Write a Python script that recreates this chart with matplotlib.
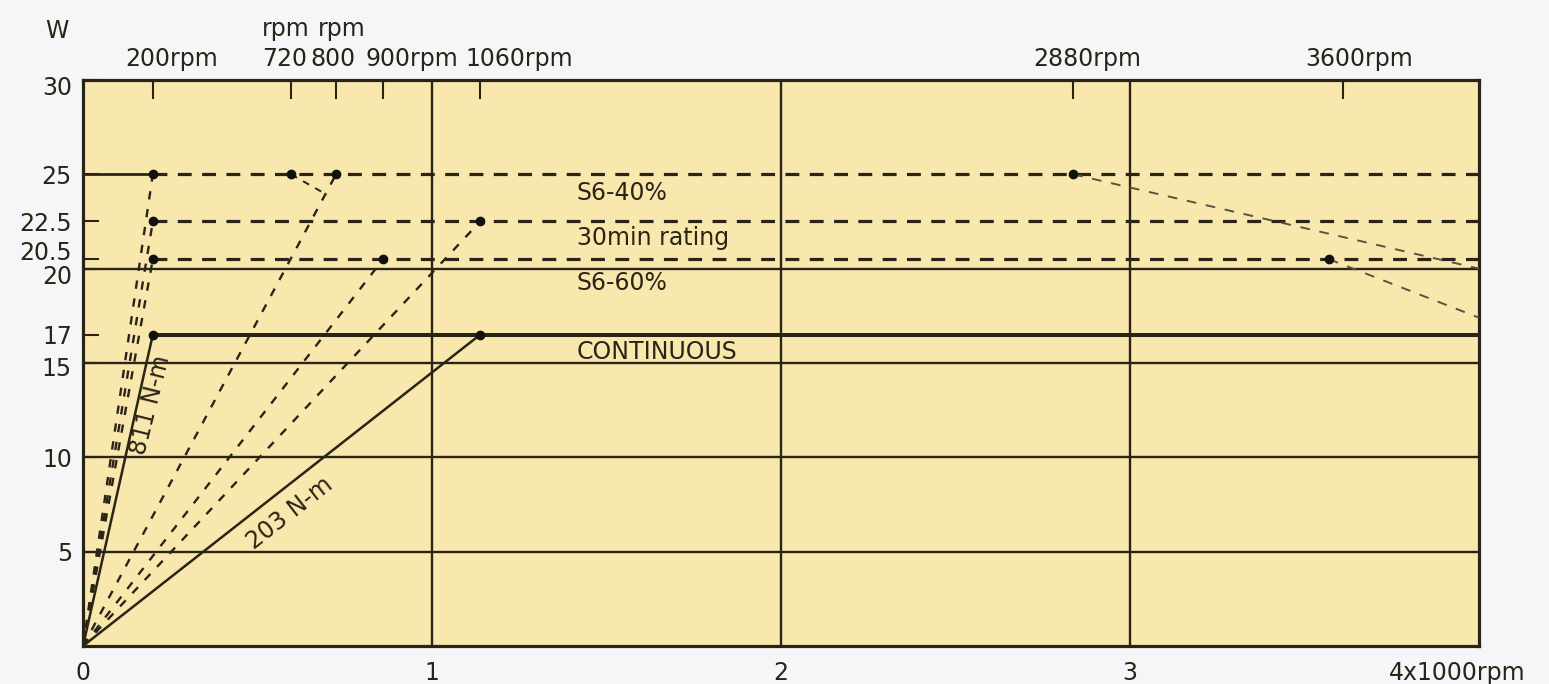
import matplotlib.pyplot as plt
import matplotlib.transforms as mtransforms

plt.rcParams['font.family'] = ['DejaVu Sans']
plt.rcParams['lines.scale_dashes'] = False

# speed axis in 1000 rpm, power axis in W (positions as drawn on the chart)
xtick_pos = [0, 1, 2, 3, 4]
xtick_labels = ['0', '1', '2', '3', '4x1000rpm']
ytick_pos = [5, 10, 15, 16.5, 20, 20.5, 22.5, 25, 30]
ytick_labels = ['5', '10', '15', '17', '20', '20.5', '22.5', '25', '30']
grid_x = [1, 2, 3]
grid_y = [5, 10, 15, 20]

# speed marks along the top edge
top_ticks = [0.2, 0.596, 0.725, 0.86, 1.138, 2.837, 3.61]
top_label_x = [0.255, 0.579, 0.716, 0.943, 1.249, 2.877, 3.656]
top_labels = ['200rpm', '720', '800', '900rpm', '1060rpm', '2880rpm', '3600rpm']
top_units = ['', 'rpm', 'rpm', '', '', '', '']
top_unit_x = [0, 0.582, 0.742, 0, 0, 0, 0]

# rating levels (dashed) and continuous rating (solid)
rating_levels = [25, 22.5, 20.5]
rating_start = 0.2
continuous_level = 16.5

# torque lines from the origin: end points
solid_ray_x = [0.2, 1.138]
solid_ray_y = [16.5, 16.5]
dashed_ray_x = [0.2, 0.2, 0.2, 0.725, 0.86, 1.138]
dashed_ray_y = [25, 22.5, 20.5, 25, 20.5, 22.5]

# field weakening lines beyond base speed
fall1_x = [2.837, 4.0]
fall1_y = [25, 20.0]
fall2_x = [3.57, 4.0]
fall2_y = [20.5, 17.4]
kink_x = [0.596, 0.70]
kink_y = [25, 23.9]

dot_x = [0.2, 0.2, 0.2, 0.2, 0.596, 0.725, 0.86, 1.138, 1.138, 2.837, 3.57]
dot_y = [25, 22.5, 20.5, 16.5, 25, 25, 20.5, 22.5, 16.5, 25, 20.5]

region_labels = ['S6-40%', '30min rating', 'S6-60%', 'CONTINUOUS']
region_y = [24.0, 21.6, 19.25, 15.6]

ink = '#2a2417'
fs = 17

fig = plt.figure(figsize=(15.49, 6.84), dpi=100, facecolor='#f4f6f8')
ax = fig.add_axes([0.0536, 0.0556, 0.9012, 0.8275])
ax.set_facecolor('#f9e8ad')
ax.set_xlim(0, 4)
ax.set_ylim(0, 30)

for gx in grid_x:
    ax.axvline(gx, color=ink, lw=1.7, zorder=2)
for gy in grid_y:
    ax.axhline(gy, color=ink, lw=1.7, zorder=2)

# ratings
ax.plot([0, rating_start], [rating_levels[0]] * 2, color=ink, lw=2.0, zorder=3)
for lv in rating_levels:
    ax.plot([rating_start, 4], [lv, lv], color=ink, lw=2.3, dashes=(10, 7.5), zorder=3)
ax.plot([rating_start, 4], [continuous_level] * 2, color=ink, lw=2.9, zorder=3)

# torque rays
for x, y in zip(solid_ray_x, solid_ray_y):
    ax.plot([0, x], [0, y], color=ink, lw=1.8, zorder=3)
for x, y in zip(dashed_ray_x, dashed_ray_y):
    ax.plot([0, x], [0, y], color=ink, lw=1.7, dashes=(6, 7), zorder=3)
ax.plot(kink_x, kink_y, color=ink, lw=1.4, dashes=(5, 5), zorder=3)

ax.plot(fall1_x, fall1_y, color='#5b5242', lw=1.4, dashes=(7, 7), zorder=3)
ax.plot(fall2_x, fall2_y, color='#5b5242', lw=1.4, dashes=(7, 7), zorder=3)

ax.plot(dot_x, dot_y, 'o', color='#111111', ms=6, zorder=5)

# text in the plot
for lab, y in zip(region_labels, region_y):
    ax.text(1.415, y, lab, fontsize=fs, color=ink, va='center', ha='left')
ax.text(0.192, 12.75, '811 N-m', fontsize=fs, color=ink, rotation=76,
        rotation_mode='anchor', ha='center', va='center')
ax.text(0.593, 7.05, '203 N-m', fontsize=fs, color=ink, rotation=38,
        rotation_mode='anchor', ha='center', va='center')

# axes frame and ticks
for sp in ax.spines.values():
    sp.set_linewidth(2.3)
    sp.set_color(ink)

ax.set_xticks(xtick_pos)
ax.set_xticklabels(xtick_labels)
ax.set_yticks(ytick_pos)
ax.set_yticklabels(ytick_labels)
ax.tick_params(axis='x', length=0, pad=11, labelsize=fs, labelcolor=ink)
ax.tick_params(axis='y', direction='in', length=11.5, width=1.5, color=ink,
               pad=8, labelsize=fs, labelcolor=ink)

y_shift = {'30': -6, '20.5': 9, '20': -6, '15': -4}
for lab in ax.get_yticklabels():
    dy = y_shift.get(lab.get_text(), 0)
    if dy:
        lab.set_transform(lab.get_transform() +
                          mtransforms.ScaledTranslation(0, dy / 100, fig.dpi_scale_trans))
xl = ax.get_xticklabels()[-1]
xl.set_transform(xl.get_transform() +
                 mtransforms.ScaledTranslation(-22 / 100, 0, fig.dpi_scale_trans))

top = ax.twiny()
top.set_xlim(ax.get_xlim())
top.patch.set_visible(False)
for sp in top.spines.values():
    sp.set_visible(False)
top.set_xticks(top_ticks)
top.set_xticklabels([])
top.tick_params(axis='x', direction='in', length=14, width=1.5, color=ink)

tr = ax.get_xaxis_transform()
for x, lab in zip(top_label_x, top_labels):
    ax.text(x, 1.037, lab, transform=tr, fontsize=fs, color=ink, ha='center', va='center')
for x, unit in zip(top_unit_x, top_units):
    if unit:
        ax.text(x, 1.09, unit, transform=tr, fontsize=fs, color=ink, ha='center', va='center')
ax.text(-0.074, 1.087, 'W', transform=tr, fontsize=fs, color=ink, ha='center', va='center')

fig.savefig('out.png', dpi=100, facecolor=fig.get_facecolor())
